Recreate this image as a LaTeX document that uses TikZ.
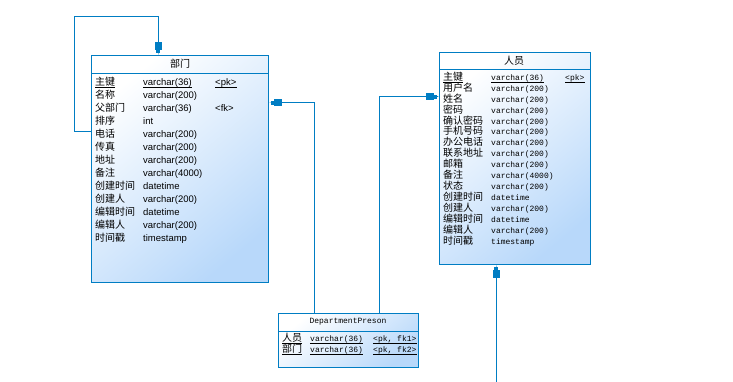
\documentclass[tikz,border=0pt]{standalone}
\usepackage{fontspec}
\newfontfamily\cjk{Noto Sans CJK SC}
\newfontfamily\pdsans{Liberation Sans}
\newfontfamily\pdmono{Liberation Mono}
\usepackage{tikz}
\usetikzlibrary{arrows.meta, positioning, calc}
\definecolor{pdline}{RGB}{0,125,195}
\definecolor{pdfill}{RGB}{184,216,250}

\begin{document}
\begin{tikzpicture}[x=1pt, y=-1pt,
  table/.style={rectangle, draw=pdline, line width=1pt, inner sep=0pt, anchor=north west, top color=white, bottom color=pdfill, shading angle=40},
  title/.style={font=\cjk\fontsize{10}{11}\selectfont, inner sep=0pt},
  cell/.style={anchor=west, inner sep=0pt, text height=7pt, text depth=2pt},
  cn/.style={cell, font=\cjk\fontsize{10}{11}\selectfont},
  sans/.style={cell, font=\pdsans\fontsize{9.5}{11}\selectfont},
  mono/.style={cell, font=\pdmono\fontsize{8}{11}\selectfont},
  fk/.style={draw=pdline, line width=1pt, -{Rectangle[length=8pt,width=7pt] Rectangle[length=3pt,width=4.5pt] Rectangle[length=2pt,width=1pt]}}
]
\useasboundingbox (0,0) rectangle (733,382);

%% Tables
\node[table, minimum width=177pt, minimum height=227pt] (dept) at (91,55) {};
\node[table, minimum width=151pt, minimum height=212pt] (user) at (439,52) {};
\node[table, minimum width=140pt, minimum height=54pt] (dp) at (278,313) {};

\draw[pdline, line width=1pt] ([yshift=-19pt]dept.north west) -- ([yshift=-19pt]dept.north east);
\draw[pdline, line width=1pt] ([yshift=-18pt]user.north west) -- ([yshift=-18pt]user.north east);
\draw[pdline, line width=1pt] ([yshift=-18pt]dp.north west) -- ([yshift=-18pt]dp.north east);

%% Titles
\node[title] (depttitle) at (180,64) {部门};
\node[title] (usertitle) at (514,61) {人员};
\node[title, font=\pdmono\fontsize{8}{10}\selectfont] (dptitle) at (348,322) {DepartmentPreson};

%% 部门 columns
\node[cn] (dname1) at (95,83) {主键};
\node[sans] (dtype1) at (143,83) {varchar(36)};
\node[sans] (dkey1) at (215,83) {<pk>};
\foreach \n/\t [count=\i from 2] in {名称/varchar(200), 父部门/varchar(36), 排序/int, 电话/varchar(200), 传真/varchar(200), 地址/varchar(200), 备注/varchar(4000), 创建时间/datetime, 创建人/varchar(200), 编辑时间/datetime, 编辑人/varchar(200), 时间戳/timestamp}
{
  \node[cn] (dname\i) at (95,70+13*\i) {\n};
  \node[sans] (dtype\i) at (143,70+13*\i) {\t};
}
\node[sans] (dkey3) at (215,109) {<fk>};

%% 人员 columns
\node[cn] (uname1) at (443,78) {主键};
\node[mono] (utype1) at (491,78) {varchar(36)};
\node[mono] (ukey1) at (565,78) {<pk>};
\foreach \n/\t [count=\i from 2] in {用户名/varchar(200), 姓名/varchar(200), 密码/varchar(200), 确认密码/varchar(200), 手机号码/varchar(200), 办公电话/varchar(200), 联系地址/varchar(200), 邮箱/varchar(200), 备注/varchar(4000), 状态/varchar(200), 创建时间/datetime, 创建人/varchar(200), 编辑时间/datetime, 编辑人/varchar(200), 时间戳/timestamp}
{
  \node[cn] (uname\i) at (443,67.1+10.9*\i) {\n};
  \node[mono] (utype\i) at (491,67.1+10.9*\i) {\t};
}

%% DepartmentPreson columns
\node[cn] (pname1) at (282,339) {人员};
\node[mono] (ptype1) at (310,339) {varchar(36)};
\node[mono] (pkey1) at (373,339) {<pk, fk1>};
\node[cn] (pname2) at (282,350) {部门};
\node[mono] (ptype2) at (310,350) {varchar(36)};
\node[mono] (pkey2) at (373,350) {<pk, fk2>};

%% Key underlines
\foreach \c in {dname1, dtype1, dkey1, uname1, utype1, ukey1, pname1, ptype1, pkey1, pname2, ptype2, pkey2}
  \draw[line width=0.8pt] ([yshift=-1.6pt]\c.base west) -- ([yshift=-1.6pt]\c.base east);

%% References
\coordinate (ext) at (496,382);
\draw[fk] ([yshift=-77pt]dept.north west) -- ++(-17,0) |- ([xshift=67pt,yshift=38pt]dept.north west) -- ([xshift=67pt]dept.north west);
\draw[fk] ([xshift=36pt]dp.north west) |- ([yshift=-48pt]dept.north east);
\draw[fk] ([xshift=101pt]dp.north west) |- ([yshift=-45pt]user.north west);
\draw[fk] (ext) -- (ext |- user.south);

\end{tikzpicture}
\end{document}
